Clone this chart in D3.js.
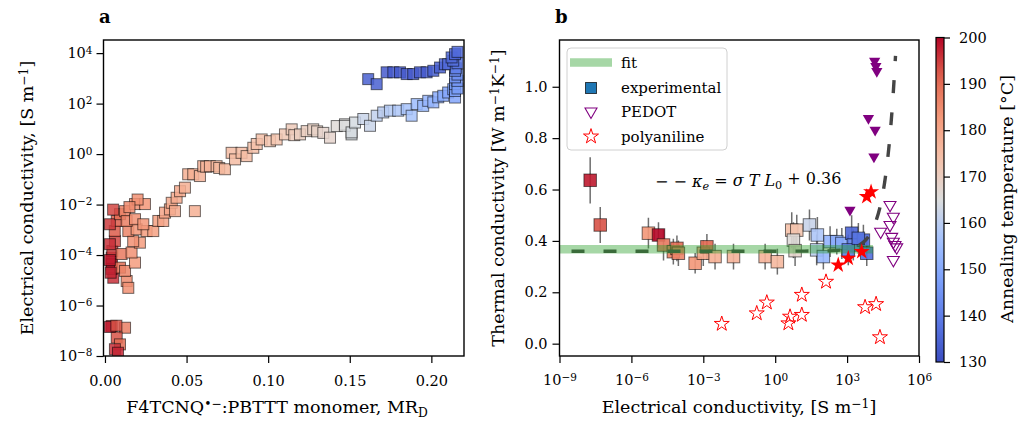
<!DOCTYPE html>
<html>
<head>
<meta charset="utf-8">
<script src="https://cdn.jsdelivr.net/npm/d3@7"></script>
<style>
  body { margin: 0; background: #fff; }
  svg { display: block; font-family: "DejaVu Serif", "Liberation Serif", serif; }
</style>
</head>
<body>
<svg id="fig" width="1020" height="421"></svg>
<script>
// ---- panel a: [MR_D, log10 sigma (S/m), annealing T (C)] ----
const aBottom = [
    [0.0041, -6.81, 196], [0.0123, -6.88, 187], [0.0072, -7.27, 193], [0.0092, -7.54, 190],
    [0.0061, -7.73, 196], [0.0080, -7.87, 197], [0.0030, -6.85, 198], [0.0070, -6.80, 193]
];
const aCluster = [
    [0.0041, -4.10, 198], [0.0041, -4.37, 196], [0.0045, -3.84, 195], [0.0061, -3.45, 194],
    [0.0060, -3.05, 192], [0.0072, -2.65, 192], [0.0051, -4.90, 196], [0.0041, -4.55, 199],
    [0.0102, -3.96, 188], [0.0030, -3.57, 196], [0.0030, -2.78, 195], [0.0092, -4.50, 190],
    [0.0092, -2.38, 190], [0.0050, -2.20, 194], [0.0030, -4.20, 198], [0.0035, -4.70, 197]
];
const aRise = [
    [0.0123, -2.26, 186], [0.0184, -1.98, 184], [0.0245, -1.98, 183], [0.0133, -5.03, 185],
    [0.0143, -5.30, 184], [0.0123, -4.63, 186], [0.0184, -4.30, 182], [0.0163, -3.90, 184],
    [0.0214, -3.51, 182], [0.0173, -3.45, 184], [0.0143, -3.05, 186], [0.0194, -2.98, 183],
    [0.0133, -2.65, 187], [0.0184, -2.58, 184], [0.0255, -3.05, 182], [0.0296, -3.05, 181],
    [0.0235, -2.78, 183], [0.0327, -2.65, 181], [0.0357, -2.65, 180], [0.0368, -2.32, 180],
    [0.0398, -2.19, 180], [0.0409, -1.93, 179], [0.0429, -2.26, 179], [0.0439, -1.73, 179],
    [0.0460, -1.47, 179], [0.0490, -1.33, 178], [0.0551, -2.26, 178], [0.0200, -1.80, 184],
    [0.0150, -2.10, 185]
];
const aPlateau = [
    [0.0510, -0.80, 178], [0.0541, -0.80, 178], [0.0582, -0.87, 177], [0.0602, -0.48, 177],
    [0.0620, -0.50, 177], [0.0643, -0.48, 177], [0.0684, -0.48, 176], [0.0700, -0.55, 176],
    [0.0735, -0.60, 176], [0.0776, 0.05, 175], [0.0797, -0.21, 175], [0.0837, 0.05, 175],
    [0.0868, -0.08, 175], [0.0909, 0.25, 174], [0.0930, 0.40, 174], [0.0960, 0.58, 174],
    [0.1011, 0.51, 173], [0.1052, 0.58, 173], [0.1103, 0.78, 172], [0.1144, 0.98, 171],
    [0.1160, 0.75, 171], [0.1195, 0.78, 170], [0.1236, 0.91, 170], [0.1276, 0.98, 169],
    [0.1300, 0.90, 169], [0.1338, 0.84, 168], [0.1379, 0.65, 168], [0.1420, 1.11, 166],
    [0.1471, 1.18, 165], [0.1511, 0.78, 164]
];
const aLowerBranch = [
    [0.1470, 1.12, 165], [0.1511, 0.86, 164], [0.1532, 1.25, 164], [0.1583, 1.39, 162],
    [0.1624, 1.12, 162], [0.1665, 1.52, 161], [0.1705, 1.65, 160], [0.1746, 1.72, 159],
    [0.1797, 1.72, 158], [0.1849, 1.78, 157], [0.1879, 1.52, 157], [0.1910, 1.98, 155],
    [0.1950, 1.91, 154], [0.1981, 2.11, 153], [0.2012, 2.05, 153], [0.2042, 2.25, 151],
    [0.2073, 2.31, 150], [0.2103, 2.44, 149], [0.2134, 2.57, 148], [0.2145, 2.24, 149],
    [0.2145, 2.50, 148], [0.2145, 2.77, 147], [0.2160, 2.60, 147], [0.2160, 2.90, 146],
    [0.2145, 3.04, 145], [0.2160, 3.15, 144], [0.2145, 3.30, 143]
];
const aUpperBranch = [
    [0.1613, 2.97, 134], [0.1665, 2.77, 134], [0.1726, 3.24, 133], [0.1767, 3.24, 133],
    [0.1808, 3.24, 133], [0.1849, 3.17, 133], [0.1889, 3.17, 133], [0.1930, 3.24, 133],
    [0.1971, 3.24, 133], [0.2012, 3.30, 134], [0.2053, 3.43, 134], [0.2083, 3.56, 135],
    [0.2103, 3.56, 136], [0.2150, 3.40, 140], [0.2160, 3.60, 138], [0.2134, 3.70, 137],
    [0.2124, 3.83, 136], [0.2145, 3.96, 135], [0.2160, 4.05, 136]
];
const aTicksX = [0, 0.05, 0.10, 0.15, 0.20];
const aTicksY = [1e-8, 1e-6, 1e-4, 1e-2, 1e0, 1e2, 1e4];

// ---- panel b: experimental [log10 sigma, kappa, kappa err, T] ----
const bExperimental = [
    [-7.72, 0.636, 0.09, 198], [-7.30, 0.462, 0.07, 193], [-5.29, 0.430, 0.06, 183],
    [-4.87, 0.423, 0.05, 200], [-4.66, 0.384, 0.06, 188], [-4.25, 0.358, 0.05, 187],
    [-4.10, 0.371, 0.05, 190], [-4.04, 0.352, 0.05, 186], [-3.34, 0.313, 0.04, 183],
    [-3.00, 0.352, 0.05, 180], [-2.85, 0.377, 0.05, 191], [-2.51, 0.339, 0.05, 178],
    [-1.74, 0.339, 0.05, 177], [-0.42, 0.339, 0.05, 177], [0.09, 0.319, 0.05, 176],
    [0.69, 0.442, 0.07, 174], [0.90, 0.442, 0.06, 173], [0.76, 0.403, 0.07, 166],
    [0.83, 0.362, 0.06, 168], [1.43, 0.462, 0.06, 162], [1.76, 0.423, 0.07, 158],
    [1.73, 0.365, 0.06, 160], [2.01, 0.339, 0.05, 154], [2.29, 0.397, 0.06, 153],
    [2.57, 0.397, 0.05, 151], [2.78, 0.390, 0.06, 150], [3.19, 0.430, 0.07, 135],
    [3.26, 0.384, 0.06, 140], [3.05, 0.365, 0.06, 140], [3.68, 0.403, 0.06, 136],
    [3.82, 0.352, 0.05, 137], [3.47, 0.410, 0.06, 138]
];
// [log10 sigma, kappa]
const bPedotFilled = [[4.15, 1.10], [4.20, 1.08], [4.24, 1.06], [3.89, 0.877], [4.17, 0.832], [4.12, 0.728], [3.12, 0.52]];
const bPedotOpen = [[4.79, 0.54], [4.93, 0.494], [4.79, 0.462], [4.40, 0.436], [4.86, 0.416], [4.93, 0.397], [5.00, 0.384], [5.07, 0.375], [4.93, 0.326]];
const bPaniOpen = [[-2.23, 0.077], [-0.77, 0.118], [-0.35, 0.16], [0.55, 0.079], [0.62, 0.105], [1.11, 0.112], [1.11, 0.19], [2.12, 0.241], [3.75, 0.142], [4.21, 0.154], [4.37, 0.025]];
const bPaniFilled = [[2.63, 0.306], [3.05, 0.332], [3.61, 0.358], [3.82, 0.572], [4.00, 0.591]];
const bFit = [[-9, 0.368], [4.08, 0.368]];
const bKappaE = [[-9, 0.36], [0, 0.36], [2, 0.361], [3, 0.367], [3.5, 0.383], [3.8, 0.406], [4.0, 0.433],
    [4.2, 0.476], [4.4, 0.543], [4.6, 0.65], [4.8, 0.82], [4.9, 0.94], [5.02, 1.12]];
const bTicksX = [1e-9, 1e-6, 1e-3, 1e0, 1e3, 1e6];
const bTicksY = [0, 0.2, 0.4, 0.6, 0.8, 1.0];
const legendLabels = ['fit', 'experimental', 'PEDOT', 'polyaniline'];

const cbarTicks = [130, 140, 150, 160, 170, 180, 190, 200];
const coolwarmStops = ['#3b4cc0', '#5a78e4', '#7b9ff9', '#a2c1ff', '#dcdddd', '#f5c2aa', '#f49a7b', '#e0654f', '#b40426'];

const FONT_TICK = 14.5;
const FONT_LABEL = 17.5;
const FONT_LEGEND = 15;
const svg = d3.select('#fig');
const coolwarm = d3.piecewise(d3.interpolateRgb, coolwarmStops);
const tNorm = d3.scaleLinear().domain([130, 200]).range([0, 1]).clamp(true);
const tempColor = T => coolwarm(tNorm(T));
const MINUS = '\u2212';

function supLabels(g) {
    g.selectAll('.tick text').each(function (d) {
        const e = Math.round(Math.log10(d));
        const t = d3.select(this).text('10');
        t.append('tspan').attr('dy', '-0.45em').attr('font-size', '0.72em')
            .text(e < 0 ? MINUS + (-e) : e);
    });
}

function styleAxis(g) {
    g.attr('font-family', null).attr('font-size', FONT_TICK);
    g.select('.domain').remove();
    g.selectAll('.tick line').attr('stroke-width', 1.2);
}

function frame(box) {
    svg.append('rect')
        .attr('x', box.x0).attr('y', box.y0)
        .attr('width', box.x1 - box.x0).attr('height', box.y1 - box.y0)
        .attr('fill', 'none').attr('stroke', '#000').attr('stroke-width', 1.4);
}

function clip(id, box) {
    svg.append('clipPath').attr('id', id).append('rect')
        .attr('x', box.x0).attr('y', box.y0)
        .attr('width', box.x1 - box.x0).attr('height', box.y1 - box.y0);
    return svg.append('g').attr('clip-path', `url(#${id})`);
}

// ================= panel a =================
const boxA = { x0: 103.5, x1: 464, y0: 40, y1: 356 };
const xA = d3.scaleLinear().domain([-0.0009, 0.22]).range([boxA.x0, boxA.x1]);
const yA = d3.scaleLog().domain([1e-8, Math.pow(10, 4.52)]).range([boxA.y1, boxA.y0]);

const plotA = clip('clipA', boxA);
const pointsA = [...aBottom, ...aCluster, ...aRise, ...aPlateau, ...aLowerBranch, ...aUpperBranch];
const sqA = 11;
plotA.selectAll('rect.pa')
    .data(pointsA)
    .join('rect')
    .attr('class', 'pa')
    .attr('x', d => xA(d[0]) - sqA / 2)
    .attr('y', d => yA(Math.pow(10, d[1])) - sqA / 2)
    .attr('width', sqA).attr('height', sqA)
    .attr('fill', d => tempColor(d[2]))
    .attr('fill-opacity', 0.85)
    .attr('stroke', '#000').attr('stroke-opacity', 0.55).attr('stroke-width', 1);

svg.append('g')
    .attr('transform', `translate(0,${boxA.y1})`)
    .call(d3.axisBottom(xA).tickValues(aTicksX).tickFormat(d3.format('.2f')).tickSize(7).tickPadding(13))
    .call(styleAxis);
svg.append('g')
    .attr('transform', `translate(${boxA.x0},0)`)
    .call(d3.axisLeft(yA).tickValues(aTicksY).tickSize(7).tickPadding(4))
    .call(styleAxis)
    .call(supLabels);
frame(boxA);

// ================= panel b =================
const boxB = { x0: 559.5, x1: 919, y0: 40, y1: 356 };
const xB = d3.scaleLog().domain([1e-9, 1e6]).range([boxB.x0, boxB.x1]);
const yB = d3.scaleLinear().domain([-0.048, 1.182]).range([boxB.y1, boxB.y0]);
const px = l => xB(Math.pow(10, l));

const plotB = clip('clipB', boxB);

// error bars then squares
plotB.selectAll('line.err')
    .data(bExperimental)
    .join('line')
    .attr('class', 'err')
    .attr('x1', d => px(d[0])).attr('x2', d => px(d[0]))
    .attr('y1', d => yB(d[1] - d[2])).attr('y2', d => yB(d[1] + d[2]))
    .attr('stroke', '#6e6e6e').attr('stroke-width', 1.5);

const sqB = 12.5;
plotB.selectAll('rect.pb')
    .data(bExperimental)
    .join('rect')
    .attr('class', 'pb')
    .attr('x', d => px(d[0]) - sqB / 2)
    .attr('y', d => yB(d[1]) - sqB / 2)
    .attr('width', sqB).attr('height', sqB)
    .attr('fill', d => tempColor(d[3]))
    .attr('fill-opacity', 0.9)
    .attr('stroke', '#000').attr('stroke-opacity', 0.55).attr('stroke-width', 1);

// kappa_e model line (grey dashes, sits under the fit band)
plotB.append('path')
    .datum(bKappaE)
    .attr('d', d3.line().x(d => px(d[0])).y(d => yB(d[1])).curve(d3.curveMonotoneX))
    .attr('fill', 'none').attr('stroke', '#454545').attr('stroke-width', 3.4)
    .attr('stroke-dasharray', '13,19').attr('stroke-dashoffset', -12);

plotB.append('path')
    .datum(bFit)
    .attr('d', d3.line().x(d => px(d[0])).y(d => yB(d[1])))
    .attr('stroke', '#2ca02c').attr('stroke-opacity', 0.42).attr('stroke-width', 8.5);

const triDown = d3.symbol().type(d3.symbolTriangle);
const star = d3.symbol().type(d3.symbolStar);

plotB.selectAll('path.pf')
    .data(bPedotFilled)
    .join('path')
    .attr('class', 'pf')
    .attr('d', triDown.size(55)())
    .attr('transform', d => `translate(${px(d[0])},${yB(d[1])}) rotate(180)`)
    .attr('fill', '#800080');

plotB.selectAll('path.po')
    .data(bPedotOpen)
    .join('path')
    .attr('class', 'po')
    .attr('d', triDown.size(62)())
    .attr('transform', d => `translate(${px(d[0])},${yB(d[1])}) rotate(180)`)
    .attr('fill', 'none').attr('stroke', '#800080').attr('stroke-width', 1.1);

plotB.selectAll('path.so')
    .data(bPaniOpen)
    .join('path')
    .attr('class', 'so')
    .attr('d', star.size(70)())
    .attr('transform', d => `translate(${px(d[0])},${yB(d[1])})`)
    .attr('fill', 'none').attr('stroke', '#ff0000').attr('stroke-width', 1);

plotB.selectAll('path.sf')
    .data(bPaniFilled)
    .join('path')
    .attr('class', 'sf')
    .attr('d', star.size(80)())
    .attr('transform', d => `translate(${px(d[0])},${yB(d[1])})`)
    .attr('fill', '#ff0000');

svg.append('g')
    .attr('transform', `translate(0,${boxB.y1})`)
    .call(d3.axisBottom(xB).tickValues(bTicksX).tickSize(7).tickPadding(12))
    .call(styleAxis)
    .call(supLabels);
svg.append('g')
    .attr('transform', `translate(${boxB.x0},0)`)
    .call(d3.axisLeft(yB).tickValues(bTicksY).tickFormat(d3.format('.1f')).tickSize(7).tickPadding(5))
    .call(styleAxis);
frame(boxB);

// annotation for the dashed line
const note = svg.append('text').attr('x', 655).attr('y', 187).attr('font-size', 16);
note.append('tspan').text(`${MINUS} ${MINUS} `);
note.append('tspan').attr('font-style', 'italic').text('\u03ba');
note.append('tspan').attr('font-style', 'italic').attr('font-size', '0.7em').attr('dy', '0.3em').text('e');
note.append('tspan').attr('dy', '-0.3em').text(' = ');
note.append('tspan').attr('font-style', 'italic').text('\u03c3 T L');
note.append('tspan').attr('font-size', '0.7em').attr('dy', '0.3em').text('0');
note.append('tspan').attr('dy', '-0.3em').text(' + 0.36');

// legend
const leg = svg.append('g').attr('transform', 'translate(567,48)');
leg.append('rect').attr('width', 160).attr('height', 102).attr('rx', 4)
    .attr('fill', '#fff').attr('fill-opacity', 0.8).attr('stroke', '#d0d0d0');
const rowY = [14.5, 40, 63.5, 88.5];
leg.append('line').attr('x1', 3).attr('x2', 45).attr('y1', rowY[0]).attr('y2', rowY[0])
    .attr('stroke', '#2ca02c').attr('stroke-opacity', 0.42).attr('stroke-width', 8.5);
leg.append('rect').attr('x', 24 - 5.5).attr('y', rowY[1] - 5.5).attr('width', 11).attr('height', 11)
    .attr('fill', '#1f77b4').attr('stroke', '#000').attr('stroke-opacity', 0.7);
leg.append('path').attr('d', triDown.size(62)())
    .attr('transform', `translate(24,${rowY[2]}) rotate(180)`)
    .attr('fill', 'none').attr('stroke', '#800080').attr('stroke-width', 1.1);
leg.append('path').attr('d', star.size(70)())
    .attr('transform', `translate(24,${rowY[3]})`)
    .attr('fill', 'none').attr('stroke', '#ff0000').attr('stroke-width', 1);
leg.selectAll('text.lg')
    .data(legendLabels)
    .join('text')
    .attr('class', 'lg')
    .attr('x', 54).attr('y', (d, i) => rowY[i] + 5)
    .attr('font-size', FONT_LEGEND)
    .text(d => d);

// ================= colorbar =================
const cbar = { x0: 936, x1: 944, y0: 37.5, y1: 362 };
const yC = d3.scaleLinear().domain([130, 200]).range([cbar.y1, cbar.y0]);
const grad = svg.append('defs').append('linearGradient')
    .attr('id', 'cw').attr('x1', 0).attr('x2', 0).attr('y1', 1).attr('y2', 0);
grad.selectAll('stop')
    .data(d3.range(0, 1.0001, 0.05))
    .join('stop')
    .attr('offset', d => d)
    .attr('stop-color', d => coolwarm(d));
svg.append('rect')
    .attr('x', cbar.x0).attr('y', cbar.y0)
    .attr('width', cbar.x1 - cbar.x0).attr('height', cbar.y1 - cbar.y0)
    .attr('fill', 'url(#cw)').attr('stroke', '#000').attr('stroke-width', 1.2);
svg.append('g')
    .attr('transform', `translate(${cbar.x1},0)`)
    .call(d3.axisRight(yC).tickValues(cbarTicks).tickSize(6).tickPadding(9))
    .call(styleAxis);

// ================= labels =================
function label(x, y, rotate, parts, anchor = 'middle') {
    const t = svg.append('text')
        .attr('transform', `translate(${x},${y})${rotate ? ' rotate(-90)' : ''}`)
        .attr('text-anchor', anchor).attr('font-size', FONT_LABEL);
    parts.forEach(p => {
        const s = t.append('tspan').text(p.t);
        if (p.sup) s.attr('dy', '-0.45em').attr('font-size', '0.7em');
        if (p.sub) s.attr('dy', '0.3em').attr('font-size', '0.7em');
        if (p.back) s.attr('dy', p.back);
    });
    return t;
}

label(33, 198, true, [{ t: 'Electrical conductivity, [S m' }, { t: MINUS + '1', sup: true }, { t: ']', back: '0.32em' }]);
label(277, 413, false, [{ t: 'F4TCNQ' }, { t: '\u2022' + MINUS, sup: true }, { t: ':PBTTT monomer, MR', back: '0.32em' }, { t: 'D', sub: true }]);
label(739, 413, false, [{ t: 'Electrical conductivity, [S m' }, { t: MINUS + '1', sup: true }, { t: ']', back: '0.32em' }]);
label(504, 198, true, [{ t: 'Thermal conductivity [W m' }, { t: MINUS + '1', sup: true }, { t: 'K', back: '0.32em' }, { t: MINUS + '1', sup: true }, { t: ']', back: '0.32em' }]);
label(1013, 199, true, [{ t: 'Annealing temperature [\u00b0C]' }]);

svg.append('text').attr('x', 99).attr('y', 23).attr('font-size', 18).attr('font-weight', 'bold').text('a');
svg.append('text').attr('x', 555).attr('y', 23).attr('font-size', 18).attr('font-weight', 'bold').text('b');
</script>
</body>
</html>
